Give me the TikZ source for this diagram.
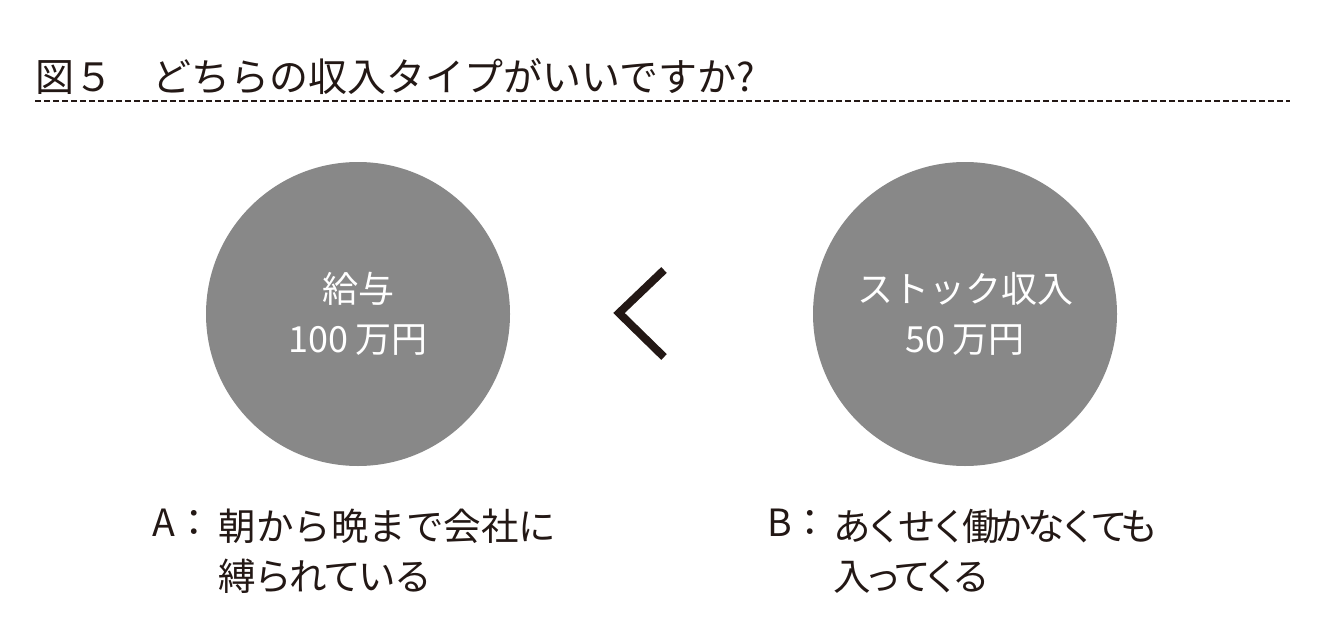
\documentclass[tikz,border=0pt]{standalone}
\usepackage{fontspec}
\newfontfamily\jp{Noto Sans CJK JP}
\usetikzlibrary{positioning}
\definecolor{mInk}{HTML}{231815}
\definecolor{mCircle}{HTML}{888888}
% tighter kana runs
\newcommand{\tight}[2]{{\addfontfeature{LetterSpace=#1}#2}}

\begin{document}
\begin{tikzpicture}[
    x=1pt, y=-1pt,
    income/.style={circle, fill=mCircle, minimum size=304pt, inner sep=0pt, text=white, align=center, font=\jp\fontsize{36}{50}\selectfont},
    lbl/.style={inner sep=0pt, text=mInk, font=\jp\fontsize{37.5}{50}\selectfont},
    title/.style={inner sep=0pt, text=mInk, font=\jp\fontsize{39}{44}\selectfont},
    rule/.style={mInk, line width=2pt, dash pattern=on 6pt off 3pt},
    cmp/.style={mInk, line width=8pt, miter limit=10}
]
    \useasboundingbox (0,0) rectangle (1322,626);

    % Title
    \node[title, anchor=west] (ttl) at (35,77) {図５　どちらの収入タイプがいいですか?};
    \coordinate (ruleL) at (35,101);
    \coordinate (ruleR) at (1290,101);
    \draw[rule] (ruleL) -- (ruleR);

    % Circles
    \node[income] (wage) at (358,314) {給与\\100\hspace{7pt}万円};
    \node[income] (stock) at (965,314) {ストック収入\\50\hspace{7pt}万円};

    % Comparison sign
    \coordinate (cmpT) at (664,270);
    \coordinate (cmpM) at (619,313);
    \coordinate (cmpB) at (664,357);
    \draw[cmp] (cmpT) -- (cmpM) -- (cmpB);

    % Labels
    \node[lbl, anchor=west] (keyA) at (152,523) {A：};
    \node[lbl, anchor=north west, align=left, xshift=6pt] (txtA) at (keyA.north east) {朝から晩まで会社に\\\tight{-6}{縛られている}};
    \node[lbl, anchor=west] (keyB) at (767,523) {B：};
    \node[lbl, anchor=north west, align=left, xshift=4pt] (txtB) at (keyB.north east) {\tight{-14}{あくせく働かなくても}\\\tight{-18}{入ってくる}};
\end{tikzpicture}
\end{document}
